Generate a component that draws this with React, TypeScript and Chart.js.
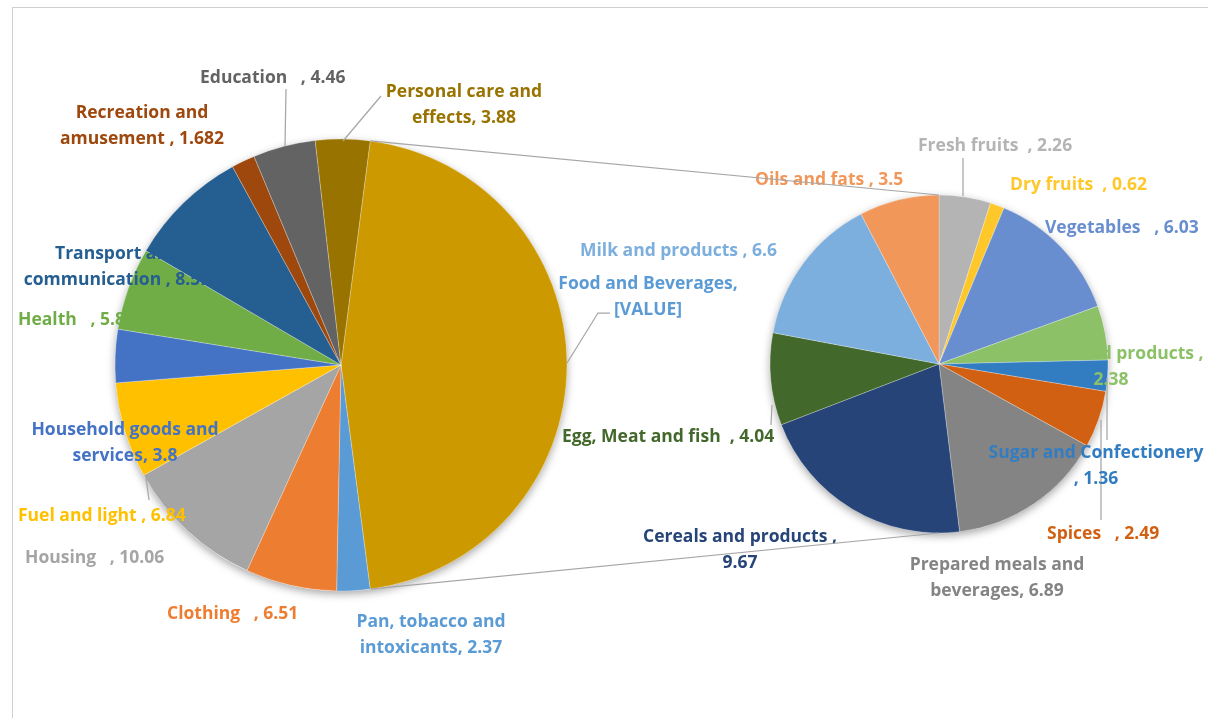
import React, { useEffect, useRef } from 'react';
import { Chart, registerables } from 'chart.js';

Chart.register(...registerables);

// ---------------- DATA ----------------
const mainCategories = [
  'Food and Beverages',
  'Pan, tobacco and intoxicants',
  'Clothing',
  'Housing',
  'Fuel and light',
  'Household goods and services',
  'Health',
  'Transport and communication',
  'Recreation and amusement',
  'Education',
  'Personal care and effects',
];
const otherValues = [2.37, 6.51, 10.06, 6.84, 3.8, 5.89, 8.59, 1.682, 4.46, 3.88];

const foodCategories = [
  'Fresh fruits',
  'Dry fruits',
  'Vegetables',
  'Pulses and products',
  'Sugar and Confectionery',
  'Spices',
  'Prepared meals and beverages',
  'Cereals and products',
  'Egg, Meat and fish',
  'Milk and products',
  'Oils and fats',
];
const foodValues = [2.26, 0.62, 6.03, 2.38, 1.36, 2.49, 6.89, 9.67, 4.04, 6.6, 3.5];

const foodTotal = foodValues.reduce((a, b) => a + b, 0);
const mainValues = [foodTotal, ...otherValues];

// ---------------- STYLES ----------------
const mainColors = ['#cc9a00', '#5b9bd5', '#ed7d31', '#a5a5a5', '#ffc000', '#4472c4', '#70ad47', '#255e91', '#9e480e', '#636363', '#997300'];
const mainLabelColors = ['#5b9bd5', '#5b9bd5', '#ed7d31', '#a5a5a5', '#ffc000', '#4472c4', '#70ad47', '#255e91', '#9e480e', '#636363', '#997300'];
const foodColors = ['#b4b4b4', '#ffc82a', '#698ed0', '#8cc168', '#327dc2', '#d26012', '#848484', '#264478', '#43682b', '#7cafdd', '#f1975a'];

const FONT = 'bold 17.5px "Open Sans", Lato, sans-serif';
const LINE_H = 26;

type LabelLayout = { lines: (v: number) => string[]; x: number; y: number; align: CanvasTextAlign };

const mainLabelLayout: LabelLayout[] = [
  { lines: () => ['Food and Beverages,', '[VALUE]'], x: 648, y: 284, align: 'center' },
  { lines: (v) => ['Pan, tobacco and', `intoxicants, ${v}`], x: 431, y: 622, align: 'center' },
  { lines: (v) => [`Clothing   , ${v}`], x: 167, y: 614, align: 'left' },
  { lines: (v) => [`Housing   , ${v}`], x: 25, y: 558, align: 'left' },
  { lines: (v) => [`Fuel and light , ${v}`], x: 18, y: 516, align: 'left' },
  { lines: (v) => ['Household goods and', `services, ${v}`], x: 125, y: 430, align: 'center' },
  { lines: (v) => [`Health   , ${v}`], x: 18, y: 320, align: 'left' },
  { lines: (v) => ['Transport and', `communication , ${v}`], x: 117, y: 254, align: 'center' },
  { lines: (v) => ['Recreation and', `amusement , ${v}`], x: 142, y: 113, align: 'center' },
  { lines: (v) => [`Education   , ${v}`], x: 200, y: 78, align: 'left' },
  { lines: (v) => ['Personal care and', `effects, ${v}`], x: 464, y: 92, align: 'center' },
];

const foodLabelLayout: LabelLayout[] = [
  { lines: (v) => [`Fresh fruits  , ${v}`], x: 918, y: 146, align: 'left' },
  { lines: (v) => [`Dry fruits  , ${v}`], x: 1010, y: 185, align: 'left' },
  { lines: (v) => [`Vegetables   , ${v}`], x: 1045, y: 228, align: 'left' },
  { lines: (v) => ['Pulses and products ,', `${v}`], x: 1111, y: 354, align: 'center' },
  { lines: (v) => ['Sugar and Confectionery', `, ${v}`], x: 1096, y: 453, align: 'center' },
  { lines: (v) => [`Spices   , ${v}`], x: 1047, y: 534, align: 'left' },
  { lines: (v) => ['Prepared meals and', `beverages, ${v}`], x: 997, y: 565, align: 'center' },
  { lines: (v) => ['Cereals and products ,', `${v}`], x: 740, y: 537, align: 'center' },
  { lines: (v) => [`Egg, Meat and fish  , ${v}`], x: 562, y: 437, align: 'left' },
  { lines: (v) => [`Milk and products , ${v}`], x: 580, y: 251, align: 'left' },
  { lines: (v) => [`Oils and fats , ${v}`], x: 755, y: 180, align: 'left' },
];

const mainLeaders: number[][] = [
  [381, 96, 343, 141],
  [286, 89, 285, 146],
  [610, 313, 598, 313, 567, 363],
  [146, 478, 149, 500],
];
const foodLeaders: number[][] = [
  [963, 158, 963, 196],
  [771, 425, 772, 405],
  [1107, 440, 1107, 378],
  [1101, 520, 1101, 420],
];

function shadowPlugin() {
  return {
    id: 'pieShadow',
    beforeDatasetsDraw(chart: any) {
      const arc = chart.getDatasetMeta(0).data[0];
      if (!arc) return;
      const ctx = chart.ctx;
      ctx.save();
      ctx.shadowColor = 'rgba(0,0,0,0.35)';
      ctx.shadowBlur = 9;
      ctx.shadowOffsetY = 3;
      ctx.beginPath();
      ctx.arc(arc.x, arc.y, arc.outerRadius, 0, Math.PI * 2);
      ctx.fillStyle = '#ffffff';
      ctx.fill();
      ctx.restore();
    },
  };
}

function labelPlugin(layout: LabelLayout[], values: number[], colors: string[], leaders: number[][]) {
  return {
    id: 'sliceLabels',
    afterDatasetsDraw(chart: any) {
      const ctx = chart.ctx;
      ctx.save();
      ctx.strokeStyle = '#a6a6a6';
      ctx.lineWidth = 1.25;
      leaders.forEach((pts) => {
        ctx.beginPath();
        ctx.moveTo(pts[0], pts[1]);
        for (let i = 2; i < pts.length; i += 2) ctx.lineTo(pts[i], pts[i + 1]);
        ctx.stroke();
      });
      ctx.font = FONT;
      ctx.textBaseline = 'middle';
      layout.forEach((l, i) => {
        ctx.fillStyle = colors[i];
        ctx.textAlign = l.align;
        l.lines(values[i]).forEach((t, k) => ctx.fillText(t, l.x, l.y + k * LINE_H));
      });
      ctx.restore();
    },
  };
}

export default function App() {
  const mainRef = useRef<HTMLCanvasElement>(null);
  const subRef = useRef<HTMLCanvasElement>(null);

  useEffect(() => {
    document.body.style.margin = '0';
    const foodShare = (foodTotal / mainValues.reduce((a, b) => a + b, 0)) * 360;

    const main = new Chart(mainRef.current!, {
      type: 'pie',
      data: {
        labels: mainCategories,
        datasets: [
          {
            data: mainValues,
            backgroundColor: mainColors,
            borderColor: 'rgba(255,255,255,0.35)',
            borderWidth: 0.75,
          },
        ],
      },
      options: {
        responsive: false,
        animation: false,
        devicePixelRatio: 1,
        events: [],
        radius: 226,
        rotation: 90 - foodShare / 2,
        layout: { padding: { left: 115, top: 139, right: 641, bottom: 127 } },
        plugins: { legend: { display: false }, tooltip: { enabled: false } },
      } as any,
      plugins: [shadowPlugin(), labelPlugin(mainLabelLayout, mainValues, mainLabelColors, mainLeaders)],
    });

    const connector = {
      id: 'connector',
      afterDraw(chart: any) {
        const fa = main.getDatasetMeta(0).data[0] as any;
        const sa = chart.getDatasetMeta(0).data[0];
        if (!fa || !sa) return;
        const ctx = chart.ctx;
        ctx.save();
        ctx.strokeStyle = '#a6a6a6';
        ctx.lineWidth = 1.25;
        ctx.beginPath();
        ctx.moveTo(fa.x + fa.outerRadius * Math.cos(fa.startAngle), fa.y + fa.outerRadius * Math.sin(fa.startAngle));
        ctx.lineTo(sa.x, sa.y - sa.outerRadius);
        ctx.moveTo(fa.x + fa.outerRadius * Math.cos(fa.endAngle), fa.y + fa.outerRadius * Math.sin(fa.endAngle));
        ctx.lineTo(sa.x, sa.y + sa.outerRadius);
        ctx.stroke();
        ctx.restore();
      },
    };

    const sub = new Chart(subRef.current!, {
      type: 'pie',
      data: {
        labels: foodCategories,
        datasets: [
          {
            data: foodValues,
            backgroundColor: foodColors,
            borderColor: 'rgba(255,255,255,0.35)',
            borderWidth: 0.75,
          },
        ],
      },
      options: {
        responsive: false,
        animation: false,
        devicePixelRatio: 1,
        events: [],
        radius: 169,
        rotation: 0,
        layout: { padding: { left: 770, top: 195, right: 100, bottom: 185 } },
        plugins: { legend: { display: false }, tooltip: { enabled: false } },
      } as any,
      plugins: [shadowPlugin(), labelPlugin(foodLabelLayout, foodValues, foodColors, foodLeaders), connector],
    });

    return () => {
      sub.destroy();
      main.destroy();
    };
  }, []);

  const canvasStyle: React.CSSProperties = { position: 'absolute', left: 0, top: 0, width: 1208, height: 718 };

  return (
    <div style={{ position: 'fixed', left: 0, top: 0, width: 1208, height: 718, overflow: 'hidden', background: '#fff' }}>
      <div
        style={{
          position: 'absolute',
          left: 12,
          top: 7,
          width: 1400,
          height: 900,
          borderLeft: '1px solid #d0d0d0',
          borderTop: '1px solid #d0d0d0',
        }}
      />
      <canvas ref={mainRef} width={1208} height={718} style={canvasStyle} />
      <canvas ref={subRef} width={1208} height={718} style={canvasStyle} />
    </div>
  );
}
